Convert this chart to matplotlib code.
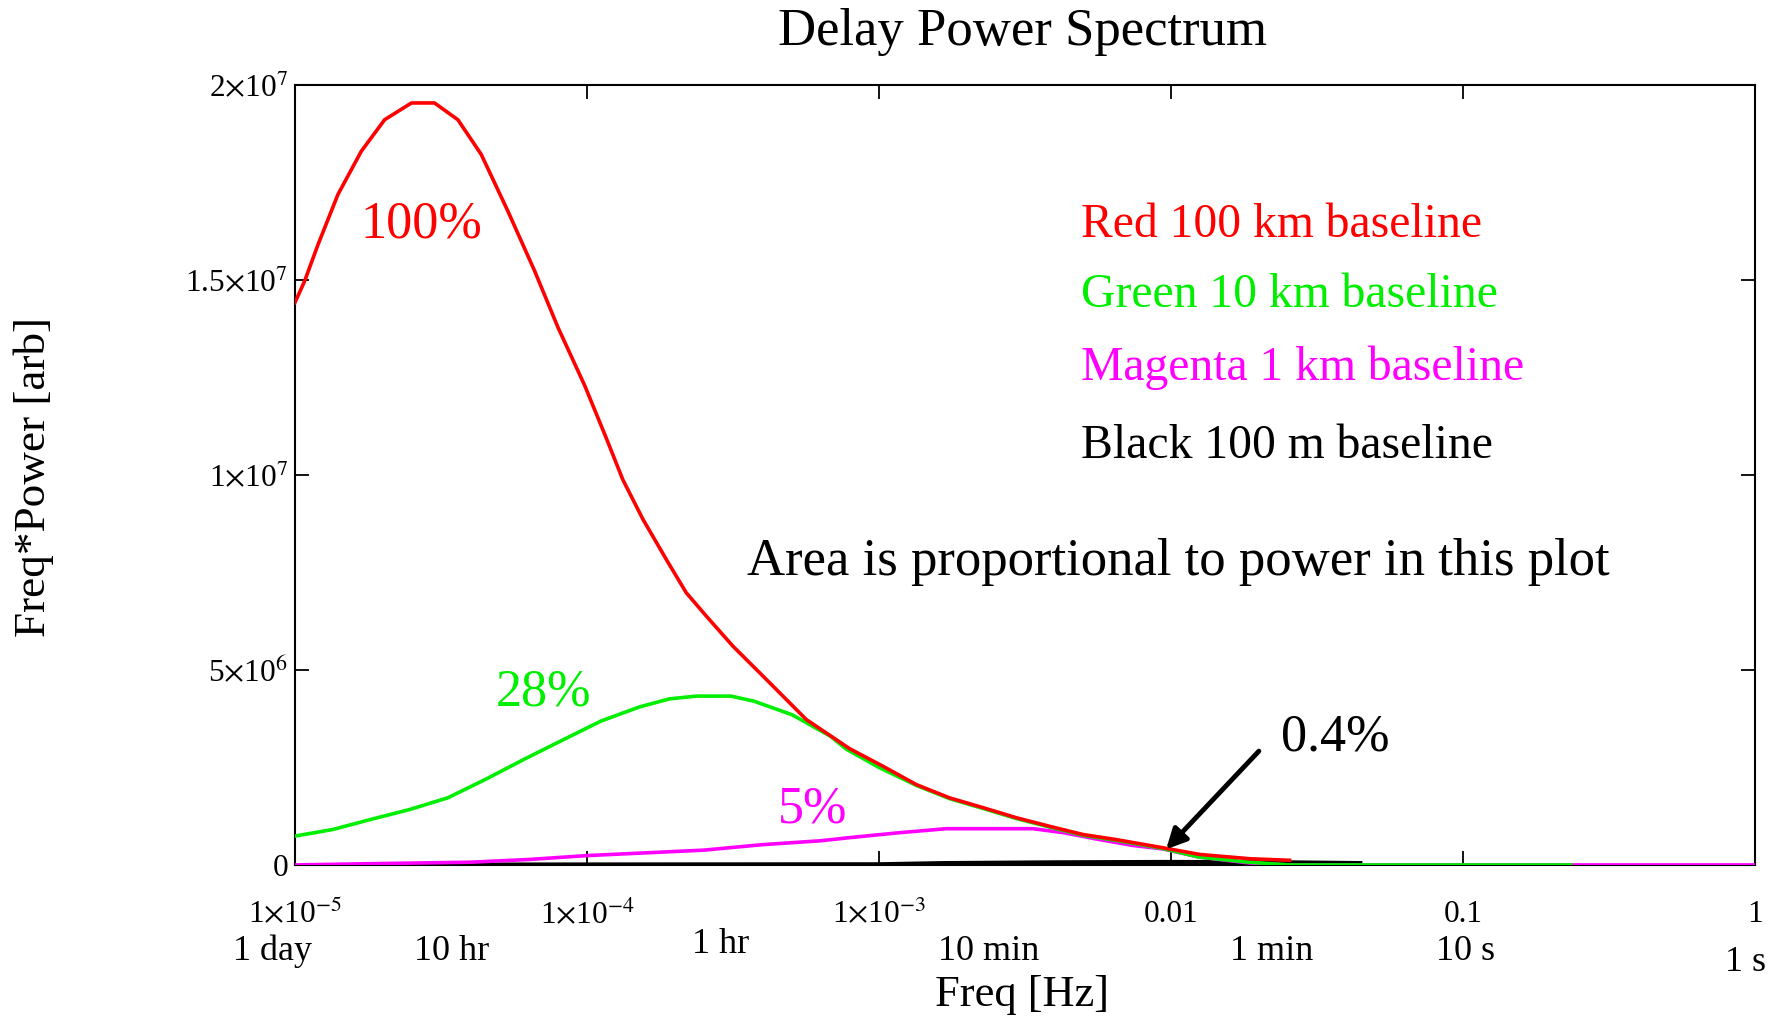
import matplotlib
matplotlib.use("Agg")
import matplotlib.pyplot as plt
import matplotlib.transforms as mtransforms
import numpy as np

plt.rcParams['font.family'] = ['Liberation Serif', 'DejaVu Serif']
plt.rcParams['mathtext.fontset'] = 'stix'

#--- Data (freq in Hz, Freq*Power in units of 1e6)
red_freq = [1.0e-5, 1.079e-5, 1.2e-5, 1.403e-5, 1.687e-5, 2.028e-5, 2.506e-5, 3.006e-5, 3.614e-5,
            4.345e-5, 5.358e-5, 6.622e-5, 7.962e-5, 9.817e-5, 1.164e-4, 1.327e-4, 1.556e-4,
            1.871e-4, 2.188e-4, 2.564e-4, 3.162e-4, 4.111e-4, 5.636e-4, 7.943e-4, 1.033e-3,
            1.343e-3, 1.746e-3, 2.27e-3, 2.958e-3, 3.846e-3, 5.0e-3, 6.501e-3, 9.397e-3,
            1.253e-2, 1.858e-2, 2.547e-2]
red_val = [14.42, 14.97, 15.91, 17.19, 18.30, 19.11, 19.54, 19.54, 19.11,
           18.22, 16.77, 15.23, 13.78, 12.3, 10.95, 9.88, 8.86,
           7.83, 6.98, 6.38, 5.61, 4.76, 3.73, 2.98, 2.53,
           2.06, 1.72, 1.47, 1.21, 0.99, 0.78, 0.65, 0.44,
           0.27, 0.16, 0.12]

green_freq = [1.0e-5, 1.349e-5, 1.824e-5, 2.466e-5, 3.334e-5, 4.508e-5, 6.095e-5, 8.241e-5,
              1.117e-4, 1.51e-4, 1.919e-4, 2.371e-4, 3.112e-4, 3.733e-4, 5.047e-4, 6.823e-4,
              7.727e-4, 1.0e-3, 1.343e-3, 1.746e-3, 2.27e-3, 2.958e-3, 3.846e-3, 5.0e-3,
              6.501e-3, 9.397e-3, 1.253e-2, 1.858e-2, 2.547e-2, 0.234]
green_val = [0.74, 0.91, 1.17, 1.42, 1.72, 2.2, 2.71, 3.2,
             3.69, 4.05, 4.26, 4.33, 4.33, 4.2, 3.85, 3.30,
             2.97, 2.5, 2.04, 1.70, 1.45, 1.19, 0.97, 0.76,
             0.63, 0.42, 0.2, 0.07, 0.0, 0.0]

magenta_freq = [1.0e-5, 1.738e-5, 3.981e-5, 6.31e-5, 1.0e-4, 1.585e-4, 2.512e-4, 3.981e-4,
                6.31e-4, 7.925e-4, 1.148e-3, 1.698e-3, 3.365e-3, 4.266e-3, 5.702e-3, 7.413e-3,
                9.397e-3, 1.253e-2, 1.858e-2, 2.547e-2, 1.0]
magenta_val = [0.0, 0.03, 0.07, 0.14, 0.24, 0.31, 0.38, 0.52,
               0.62, 0.70, 0.82, 0.93, 0.93, 0.83, 0.65, 0.50,
               0.41, 0.2, 0.05, 0.0, 0.0]

black_freq = [1.74e-5, 1.0e-4, 1.0e-3, 1.66e-3, 4.0e-3, 1.0e-2, 2.5e-2, 4.44e-2]
black_val = [0.0, 0.005, 0.01, 0.04, 0.06, 0.07, 0.06, 0.04]

y_ticks = [0, 5e6, 1e7, 1.5e7, 2e7]
y_ticklabels = ['0', r'5$\times$10$^{6}$', r'1$\times$10$^{7}$', r'1.5$\times$10$^{7}$', r'2$\times$10$^{7}$']
x_ticks = [1e-5, 1e-4, 1e-3, 1e-2, 1e-1, 1]
x_ticklabels = [r'1$\times$10$^{-5}$', r'1$\times$10$^{-4}$', r'1$\times$10$^{-3}$', '0.01', '0.1', '1']

period_labels = ['1 day', '10 hr', '1 hr', '10 min', '1 min', '10 s', '1 s']
period_x = [8.35e-6, 3.44e-5, 2.88e-4, 2.37e-3, 2.22e-2, 0.102, 0.93]
period_y = [-0.111, -0.111, -0.102, -0.111, -0.111, -0.111, -0.125]

legend_text = ['Red 100 km baseline', 'Green 10 km baseline', 'Magenta 1 km baseline', 'Black 100 m baseline']
legend_y = [16.42e6, 14.61e6, 12.75e6, 10.74e6]

RED = '#ff0000'
GREEN = '#00ee00'
MAGENTA = '#ff00ff'
BLACK = '#000000'

#--- Plot
fig = plt.figure(figsize=(17.81, 10.17), dpi=100)
ax = fig.add_axes([0.1656, 0.1495, 0.8198, 0.7669])

lw = 2.6
ax.plot(black_freq, np.array(black_val) * 1e6, color=BLACK, lw=lw + 0.8, zorder=2)
ax.plot(magenta_freq, np.array(magenta_val) * 1e6, color=MAGENTA, lw=lw, zorder=3)
ax.plot(green_freq, np.array(green_val) * 1e6, color=GREEN, lw=lw, zorder=4)
ax.plot(red_freq, np.array(red_val) * 1e6, color=RED, lw=lw, zorder=5)

ax.set_xscale('log')
ax.set_xlim(1e-5, 1)
ax.set_ylim(0, 2e7)

ax.set_xticks(x_ticks)
ax.set_xticklabels(x_ticklabels)
ax.xaxis.set_minor_locator(matplotlib.ticker.NullLocator())
ax.set_yticks(y_ticks)
ax.set_yticklabels(y_ticklabels)

ax.tick_params(axis='both', which='major', direction='in', length=10, width=1.3,
               top=True, right=True, labelsize=22.5, colors='black')
ax.tick_params(axis='x', pad=25)
ax.tick_params(axis='y', pad=5)
for sp in ax.spines.values():
    sp.set_linewidth(1.5)

#--- Period labels under the frequency ticks
trans = mtransforms.blended_transform_factory(ax.transData, ax.transAxes)
for lab, px, py in zip(period_labels, period_x, period_y):
    ax.text(px, py, lab, transform=trans, ha='center', va='center', fontsize=26, clip_on=False)

#--- Annotations
for txt, yy, col in zip(legend_text, legend_y, [RED, GREEN, MAGENTA, BLACK]):
    ax.text(4.93e-3, yy, txt, color=col, fontsize=34.3, va='center', ha='left')

ax.text(3.54e-4, 7.77e6, 'Area is proportional to power in this plot', fontsize=38, va='center', ha='left')

ax.text(1.68e-5, 16.42e6, '100%', color=RED, fontsize=37.5, va='center', ha='left')
ax.text(4.89e-5, 4.42e6, '28%', color=GREEN, fontsize=37.5, va='center', ha='left')
ax.text(4.51e-4, 1.43e6, '5%', color=MAGENTA, fontsize=37.5, va='center', ha='left')
ax.text(2.38e-2, 3.26e6, '0.4%', color=BLACK, fontsize=37.5, va='center', ha='left')
ax.annotate('', xy=(9.48e-3, 0.35e6), xytext=(2.03e-2, 2.97e6),
            arrowprops=dict(arrowstyle='-|>', color='black', lw=3.5, mutation_scale=30), zorder=6)

fig.text(0.574, 0.969, 'Delay Power Spectrum', fontsize=38, ha='center', va='center')
fig.text(0.574, 0.022, 'Freq [Hz]', fontsize=32, ha='center', va='center')
fig.text(0.019, 0.531, 'Freq*Power [arb]', fontsize=32.5, ha='center', va='center', rotation=90)

plt.savefig('out.png', dpi=100)
plt.close()
